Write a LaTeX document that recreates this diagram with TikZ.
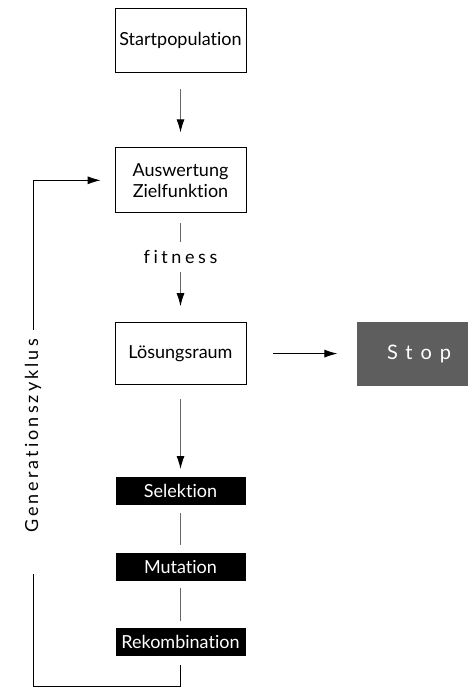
\documentclass[tikz,border=0pt]{standalone}
\usepackage{fontspec}
\setmainfont{Lato}[Ligatures={NoCommon}, RawFeature={-liga}]
\newfontfamily\spacedfont{Lato}[LetterSpace=20, RawFeature={-liga}]
\newfontfamily\cyclefont{Lato}[LetterSpace=17, RawFeature={-liga}]
\newfontfamily\stopfont{Lato}[LetterSpace=40, RawFeature={-liga}]
\usetikzlibrary{positioning,arrows.meta}

\begin{document}
\begin{tikzpicture}[x=1pt, y=1pt,
    box/.style={draw, line width=0.8pt, minimum width=131pt, align=center, inner sep=0pt,
        font=\fontsize{18}{21}\selectfont},
    op/.style={fill=black, text=white, minimum width=130pt, minimum height=28pt, inner sep=0pt,
        font=\fontsize{18}{21}\selectfont},
    stopbox/.style={fill=black!63, text=white, minimum width=125pt, minimum height=64pt, inner sep=0pt,
        font=\stopfont\fontsize{20}{24}\selectfont},
    lab/.style={font=\spacedfont\fontsize{18}{21}\selectfont, inner sep=0pt},
    cyclelab/.style={font=\cyclefont\fontsize{18}{21}\selectfont, inner sep=0pt, rotate=90},
    arr/.style={-{Latex[length=13pt,width=8pt,color=black]}, draw=black!60, line width=0.9pt},
    conn/.style={draw=black!60, line width=0.9pt},
    loop/.style={draw=black, line width=0.8pt}]

\useasboundingbox (0,0) rectangle (467,-687);

% --- main column
\node[box, minimum height=64pt] (start) at (180.5,-40) {Startpopulation};
\node[box, minimum height=65pt, below=75pt of start] (ausw) {Auswertung\\Zielfunktion};
\node[box, minimum height=62pt, below=109pt of ausw] (loes) {Lösungsraum};
\node[stopbox, right=110pt of loes] (stop) {Stop};
\node[lab, minimum height=30pt] (fit) at (180.5,-257) {fitness};

% --- operators
\node[op, below=92pt of loes] (sel) {Selektion};
\node[op, below=47pt of sel] (mut) {Mutation};
\node[op, below=47pt of mut] (rek) {Rekombination};

% --- loop
\node[cyclelab] (gen) at (33,-436) {Generationszyklus};
\coordinate (genlo) at (33,-574);
\coordinate (genhi) at (33,-330);
\coordinate (loopbot) at (33,-686);

\draw[arr, shorten <=17pt, shorten >=15pt] (start) -- (ausw);
\draw[conn, shorten <=10pt] (ausw) -- (fit);
\draw[arr, shorten >=16pt] (fit) -- (loes);
\draw[arr, draw=black, shorten <=27pt, shorten >=19pt] (loes) -- (stop);
\draw[arr, shorten <=14pt, shorten >=8pt] (loes) -- (sel);
\draw[conn, shorten <=8pt, shorten >=7pt] (sel) -- (mut);
\draw[conn, shorten <=7pt, shorten >=7pt] (mut) -- (rek);
\draw[loop] ([yshift=-9pt]rek.south) -- (rek.south |- loopbot) -- (loopbot) -- (genlo);
\draw[loop, -{Latex[length=13pt,width=8pt]}] (genhi) |- ([xshift=-14pt]ausw.west);
\end{tikzpicture}
\end{document}
